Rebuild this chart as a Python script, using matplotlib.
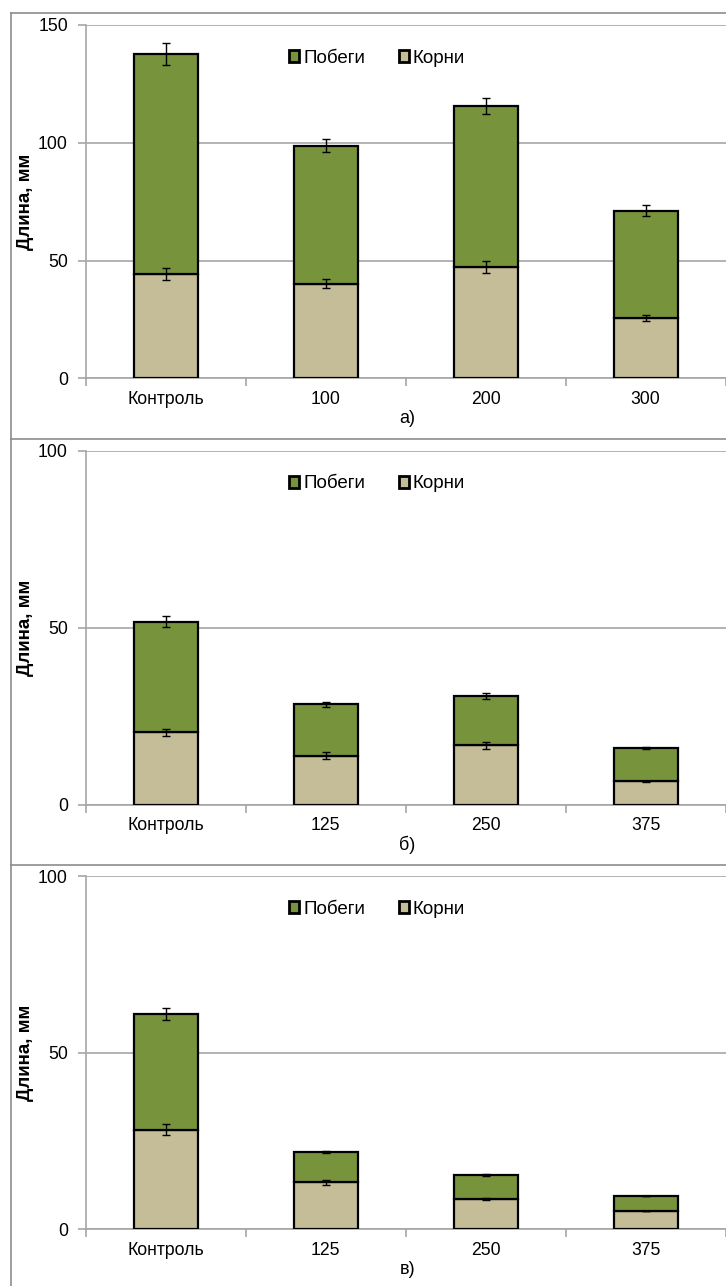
import matplotlib.pyplot as plt
from matplotlib.lines import Line2D
from matplotlib.patches import Patch

plt.rcParams['font.family'] = ['Liberation Sans', 'DejaVu Sans']

# Daten der drei Diagramme
cats_a = ['Контроль', '100', '200', '300']
roots_a = [44.2, 40.2, 47.2, 25.6]
shoots_a = [93.5, 58.5, 68.4, 45.5]
roots_err_a = [2.5, 2.0, 2.6, 1.3]
shoots_err_a = [4.7, 2.8, 3.5, 2.3]

cats_b = ['Контроль', '125', '250', '375']
roots_b = [20.4, 13.8, 16.8, 6.6]
shoots_b = [31.3, 14.6, 13.9, 9.5]
roots_err_b = [1.1, 0.95, 0.95, 0.2]
shoots_err_b = [1.55, 0.75, 0.9, 0.3]

cats_c = ['Контроль', '125', '250', '375']
roots_c = [28.2, 13.3, 8.5, 5.2]
shoots_c = [32.8, 8.5, 6.8, 4.2]
roots_err_c = [1.55, 0.75, 0.3, 0.1]
shoots_err_c = [1.7, 0.3, 0.25, 0.1]

ymax = [150, 100, 100]
captions = ['а)', 'б)', 'в)']

green = '#77933C'
tan = '#C4BD97'
gridc = '#a6a6a6'
framec = '#8c8c8c'

W, H = 726, 1286
fig = plt.figure(figsize=(W / 100, H / 100), dpi=100)

# Achsen-Positionen in Pixeln: (oben, unten)
boxes = [(25, 378.3), (450.7, 804.7), (876.3, 1229.3)]
x_left, x_right = 86, 725.5

panels = [
    (cats_a, roots_a, shoots_a, roots_err_a, shoots_err_a),
    (cats_b, roots_b, shoots_b, roots_err_b, shoots_err_b),
    (cats_c, roots_c, shoots_c, roots_err_c, shoots_err_c),
]

for i, (cats, roots, shoots, r_err, s_err) in enumerate(panels):
    top, bottom = boxes[i]
    ax = fig.add_axes([x_left / W, (H - bottom) / H,
                       (x_right - x_left) / W, (bottom - top) / H])
    xs = list(range(len(cats)))
    totals = [r + s for r, s in zip(roots, shoots)]

    ax.bar(xs, roots, width=0.4, color=tan, edgecolor='black', linewidth=1.6, zorder=3)
    ax.bar(xs, shoots, width=0.4, bottom=roots, color=green, edgecolor='black',
           linewidth=1.6, zorder=3)
    ax.errorbar(xs, roots, yerr=r_err, fmt='none', ecolor='black', elinewidth=1,
                capsize=3, capthick=1, zorder=4)
    ax.errorbar(xs, totals, yerr=s_err, fmt='none', ecolor='black', elinewidth=1,
                capsize=3, capthick=1, zorder=4)

    ax.set_xlim(-0.5, len(cats) - 0.5)
    ax.set_ylim(0, ymax[i])
    ax.set_yticks(list(range(0, ymax[i] + 1, 50)))
    ax.yaxis.grid(True, color=gridc, linewidth=1.2, zorder=0)
    ax.set_axisbelow(True)

    ax.set_xticks(xs)
    ax.set_xticklabels(cats)
    ax.set_xticks([x + 0.5 for x in range(-1, len(cats))], minor=True)
    ax.tick_params(axis='x', which='major', length=0, pad=9, labelsize=12.7)
    ax.tick_params(axis='x', which='minor', length=6, color=gridc, width=1.2)
    ax.tick_params(axis='y', length=6, color=gridc, width=1.2, pad=7, labelsize=12.7)

    for side in ['top', 'right']:
        ax.spines[side].set_visible(False)
    for side in ['left', 'bottom']:
        ax.spines[side].set_color(gridc)
        ax.spines[side].set_linewidth(1.2)

    ax.set_ylabel('Длина, мм', fontsize=13.5, fontweight='bold')
    ax.yaxis.set_label_coords(-0.081, 0.5)

    handles = [Patch(facecolor=green, edgecolor='black', linewidth=2),
               Patch(facecolor=tan, edgecolor='black', linewidth=2)]
    ax.legend(handles, ['Побеги', 'Корни'], loc='center', bbox_to_anchor=(0.455, 0.906),
              ncol=2, frameon=False, fontsize=13.5, handlelength=0.55, handleheight=0.6,
              handletextpad=0.2, columnspacing=1.8)

    ax.annotate(captions[i], xy=(1.5, 0), xycoords=('data', 'axes fraction'),
                xytext=(1, -29), textcoords='offset points',
                ha='center', va='center', fontsize=13)

# Rahmen um die einzelnen Diagramme
for y in [13.3, 439.3, 865]:
    fig.add_artist(Line2D([11 / W, 1], [(H - y) / H, (H - y) / H], color=framec, linewidth=1.2))
fig.add_artist(Line2D([11 / W, 11 / W], [(H - 13.3) / H, 0], color=framec, linewidth=1.2))

fig.savefig('out.png', dpi=100)
